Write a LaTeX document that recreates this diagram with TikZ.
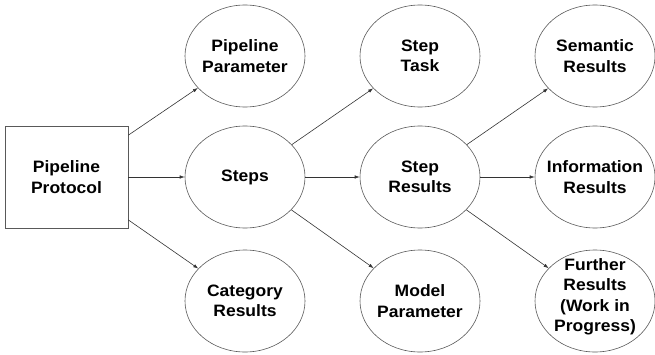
\documentclass[tikz,border=0pt]{standalone}
\usepackage{fontspec}
\setmainfont[FakeStretch=1.06]{Liberation Sans}
\usetikzlibrary{shapes.geometric,arrows.meta}
\begin{document}
\begin{tikzpicture}[x=1pt,y=1pt,
  every node/.style={font=\fontsize{16.5}{20.5}\selectfont\bfseries, align=center, text=black},
  oval/.style={ellipse, draw=black!65, line width=0.6pt, minimum width=120pt, minimum height=102pt, inner sep=-30pt},
  protobox/.style={rectangle, draw=black!65, line width=0.6pt, minimum width=123pt, minimum height=102pt, inner sep=0pt},
  conn/.style={draw=black!80, line width=0.6pt, -{Latex[length=5pt,width=3.5pt]}}]
\useasboundingbox (0,0) rectangle (655,354);
\node[protobox] (pp) at (66.5,177) {Pipeline\\Protocol};
\node[oval] (ppar) at (245,298) {Pipeline\\Parameter};
\node[oval] (steps) at (245,177) {Steps};
\node[oval] (cat) at (245,53) {Category\\Results};
\node[oval] (task) at (420,298) {Step\\Task};
\node[oval] (sres) at (420,177) {Step\\Results};
\node[oval] (model) at (420,53) {Model\\Parameter};
\node[oval] (sem) at (595,298) {Semantic\\Results};
\node[oval] (info) at (595,177) {Information\\Results};
\node[oval] (fur) at (595,53) {};
\node (furtext) at (595,57) {Further\\Results\\(Work in\\Progress)};
\draw[conn] (pp) -- (ppar);
\draw[conn] (pp) -- (steps);
\draw[conn] (pp) -- (cat);
\draw[conn] (steps) -- (task);
\draw[conn] (steps) -- (sres);
\draw[conn] (steps) -- (model);
\draw[conn] (sres) -- (sem);
\draw[conn] (sres) -- (info);
\draw[conn] (sres) -- (fur);
\end{tikzpicture}
\end{document}
